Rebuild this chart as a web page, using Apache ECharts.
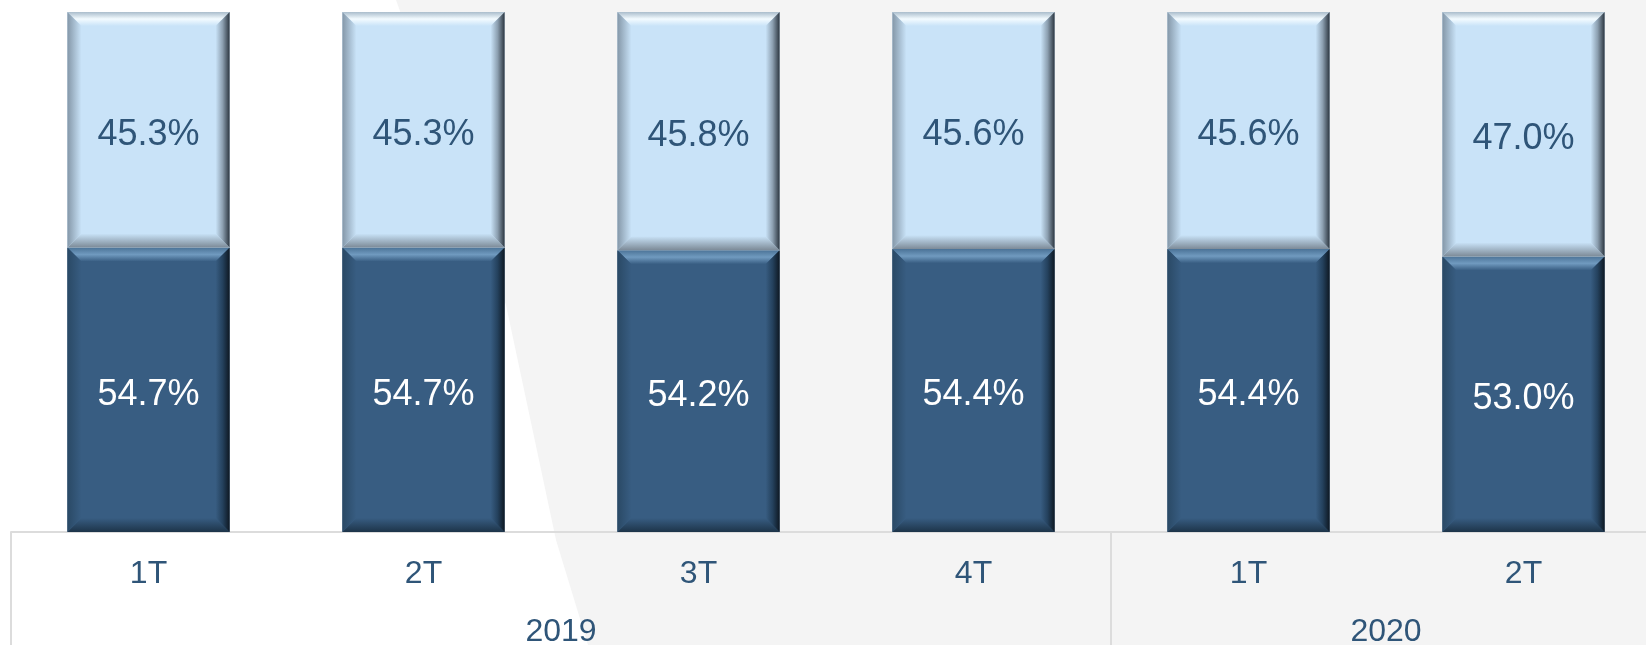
<!DOCTYPE html>
<html lang="es">
<head>
  <meta charset="utf-8">
  <title>Participación por trimestre</title>
  <script src="https://cdn.jsdelivr.net/npm/echarts@6/dist/echarts.min.js"></script>
  <style>
      html, body { margin: 0; padding: 0; background: #ffffff; overflow: hidden; }
      #chart { width: 1646px; height: 645px; }
  </style>
</head>
<body>
  <div id="chart"></div>
  <script>
    // datos
    var quarters = ['1T', '2T', '3T', '4T', '1T', '2T'];
    var years = ['2019', '2020'];
    var yearSpans = [4, 2];          // trimestres por año
    var lowerShare = [54.7, 54.7, 54.2, 54.4, 54.4, 53.0];
    var upperShare = [45.3, 45.3, 45.8, 45.6, 45.6, 47.0];

    var FONT = '"Liberation Sans", Arial, sans-serif';
    var TEXT_BLUE = '#2f5578';

    // limites y centros de cada año sobre el eje 0..6
    var yearEdges = [0], yearCenters = [];
    yearSpans.forEach(function (n) {
        var start = yearEdges[yearEdges.length - 1];
        yearCenters.push(start + n / 2);
        yearEdges.push(start + n);
    });

    var styles = {
        dark: {
            fill: '#385d82',
            top: ['#4b7397', '#709abf', '#385d82'],
            left: ['#2a4965', '#385d82'],
            right: ['#385d82', '#24415d', '#0e1822'],
            bottom: ['#385d82', '#1d3449'],
            text: '#ffffff'
        },
        light: {
            fill: '#c9e3f8',
            top: ['#aabdcc', '#f3fbff', '#c9e3f8'],
            left: ['#8497a8', '#c9e3f8'],
            right: ['#c9e3f8', '#8c9fb0', '#2c3640'],
            bottom: ['#c9e3f8', '#7c8a97'],
            text: TEXT_BLUE
        }
    };

    function grad(x2, y2, cols) {
        var stops = cols.map(function (c, k) {
            return { offset: k / (cols.length - 1), color: c };
        });
        return new echarts.graphic.LinearGradient(0, 0, x2, y2, stops);
    }

    function bevelBar(st) {
        return function (params, api) {
            var i = api.value(0);
            var base = api.value(1);
            var val = api.value(2);
            var p0 = api.coord([i, base]);
            var p1 = api.coord([i, base + val]);
            var w = api.size([1, 0])[0] * 0.59;
            var x = p0[0] - w / 2, yT = p1[1], yB = p0[1], h = yB - yT;
            var b = 14;
            return {
                type: 'group',
                children: [
                    { type: 'rect', shape: { x: x, y: yT, width: w, height: h }, style: { fill: st.fill } },
                    { type: 'polygon', shape: { points: [[x, yT], [x + w, yT], [x + w - b, yT + b], [x + b, yT + b]] },
                      style: { fill: grad(0, 1, st.top) } },
                    { type: 'polygon', shape: { points: [[x, yB], [x + w, yB], [x + w - b, yB - b], [x + b, yB - b]] },
                      style: { fill: grad(0, 1, st.bottom) } },
                    { type: 'polygon', shape: { points: [[x, yT], [x + b, yT + b], [x + b, yB - b], [x, yB]] },
                      style: { fill: grad(1, 0, st.left) } },
                    { type: 'polygon', shape: { points: [[x + w, yT], [x + w - b, yT + b], [x + w - b, yB - b], [x + w, yB]] },
                      style: { fill: grad(1, 0, st.right) } },
                    { type: 'text', style: {
                        text: val.toFixed(1) + '%', x: p0[0], y: (yT + yB) / 2 + 5,
                        align: 'center', verticalAlign: 'middle',
                        fill: st.text, fontSize: 36, fontFamily: FONT } }
                ]
            };
        };
    }

    var chart = echarts.init(document.getElementById('chart'));
    chart.setOption({
        backgroundColor: '#ffffff',
        animation: false,
        graphic: [{
            type: 'polygon', z: -10, silent: true,
            shape: { points: [[396, 0], [1646, 0], [1646, 645], [588, 645], [556, 540], [506, 305]] },
            style: { fill: '#f4f4f4' }
        }],
        grid: { left: 11, width: 1650, top: 12, bottom: 113, outerBoundsMode: 'none', containLabel: false },
        xAxis: [{
            type: 'category',
            data: quarters,
            position: 'bottom',
            axisLine: { show: false },
            axisTick: { show: false },
            axisLabel: { margin: 26, fontSize: 32, color: TEXT_BLUE, fontFamily: FONT }
        }, {
            type: 'value',
            min: 0, max: quarters.length,
            position: 'bottom',
            splitLine: { show: false },
            axisLine: { show: true, lineStyle: { color: '#dcdcdc', width: 2 } },
            axisTick: { show: true, customValues: yearEdges, length: 120,
                        lineStyle: { color: '#dcdcdc', width: 2 } },
            axisLabel: {
                customValues: yearCenters, margin: 84, fontSize: 32,
                color: TEXT_BLUE, fontFamily: FONT,
                formatter: function (v) { return years[yearCenters.indexOf(v)]; }
            }
        }],
        yAxis: { type: 'value', min: 0, max: 100, show: false },
        series: [{
            type: 'custom',
            xAxisIndex: 0,
            renderItem: bevelBar(styles.dark),
            encode: { x: 0, y: 2 },
            data: lowerShare.map(function (v, i) { return [i, 0, v]; })
        }, {
            type: 'custom',
            xAxisIndex: 0,
            renderItem: bevelBar(styles.light),
            encode: { x: 0, y: 2 },
            data: upperShare.map(function (v, i) { return [i, lowerShare[i], v]; })
        }]
    });
  </script>
</body>
</html>
